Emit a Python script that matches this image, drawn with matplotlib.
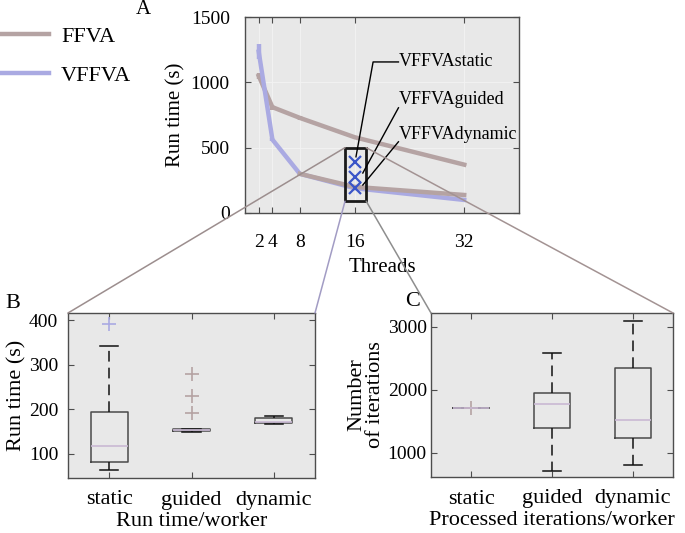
"""Run time scaling of FFVA vs VFFVA plus per-worker boxplots (panels A-C)."""
import matplotlib
matplotlib.use("Agg")
import matplotlib.pyplot as plt
from matplotlib.lines import Line2D
from matplotlib.patches import Rectangle, ConnectionPatch

plt.rcParams["font.family"] = ["Liberation Serif", "DejaVu Serif"]

# ---- data ----
threads = [2, 4, 8, 16, 32]
ffva_time = [1050, 810, 728, 580, 370]
ffva_err = [25, 18, 15, 8, 8]
vffva_time = [1235, 562, 300, 190, 100]
vffva_err = [55, 10, 5, 5, 3]
ffva_low_threads = [8, 16, 32]
ffva_low_time = [300, 200, 138]

sched_names = ["static", "guided", "dynamic"]
sched_time_16 = [392, 277, 192]  # VFFVA schedules at 16 threads

# panel B: run time per worker (s)
rt_whislo = [64, 150, 167]
rt_q1 = [82, 151, 169]
rt_med = [117, 153, 172]
rt_q3 = [195, 155, 180]
rt_whishi = [341, 157, 186]
rt_fliers = [[392], [192, 230, 280], []]

# panel C: processed iterations per worker
it_whislo = [1715, 714, 805]
it_q1 = [1715, 1387, 1229]
it_med = [1715, 1768, 1519]
it_q3 = [1715, 1952, 2340]
it_whishi = [1715, 2578, 3095]
it_fliers = [[1715], [], []]

TAUPE = "#b5a3a3"
LAV = "#aaaae2"
BG = "#e8e8e8"
SPINE = "#4d4d4d"
W, H = 685, 533


def px_axes(left, top, right, bottom):
    return [left / W, 1 - bottom / H, (right - left) / W, (bottom - top) / H]


def style(ax, labelsize=14, pad=6):
    ax.set_facecolor(BG)
    for s in ax.spines.values():
        s.set_color(SPINE)
        s.set_linewidth(1.0)
    ax.tick_params(direction="in", top=True, right=True, length=4,
                   color=SPINE, labelsize=labelsize, pad=pad)


fig = plt.figure(figsize=(W / 100, H / 100), dpi=100)

# ---- panel A ----
axA = fig.add_axes(px_axes(245, 17, 519, 213))
style(axA, labelsize=14)
axA.tick_params(axis="x", pad=15)
axA.tick_params(axis="y", pad=11)
axA.grid(True, color="#f3f3f3", lw=0.6)
axA.set_axisbelow(True)
axA.errorbar(threads, ffva_time, yerr=ffva_err, color=TAUPE, lw=3.2,
             elinewidth=3.2, capsize=0, zorder=3)
axA.errorbar(threads, vffva_time, yerr=vffva_err, color=LAV, lw=3.2,
             elinewidth=3.2, capsize=0, zorder=3)
axA.plot(ffva_low_threads, ffva_low_time, color=TAUPE, lw=3.2, zorder=4)
axA.plot([16] * len(sched_time_16), sched_time_16, "x", color="#3a55c8",
         ms=9, mew=1.6, zorder=6)
axA.set_xlim(0, 40)
axA.set_ylim(0, 1500)
axA.set_xticks(threads)
axA.set_yticks([0, 500, 1000, 1500])
axA.set_xlabel("Threads", fontsize=15, labelpad=5)
axA.set_ylabel("Run time (s)", fontsize=15, labelpad=4)

zoom_box = Rectangle((14.6, 90), 3.1, 410, fill=False, ec="#1a1a1a", lw=2, zorder=7)
axA.add_patch(zoom_box)

# annotation leaders
axA.plot([22.4, 18.7, 16.2], [1156, 1156, 430], color="k", lw=1, zorder=8)
axA.plot([22.4, 17.2], [805, 306], color="k", lw=1, zorder=8)
axA.plot([22.4, 17.2], [545, 214], color="k", lw=1, zorder=8)
for name, ty in zip(sched_names, [1156, 865, 597]):
    axA.text(22.5, ty, "VFFVA" + name, fontsize=13, va="center", ha="left",
             zorder=9)

handles = [Line2D([], [], color=TAUPE, lw=3.2), Line2D([], [], color=LAV, lw=3.2)]
fig.legend(handles, ["FFVA", "VFFVA"], loc="upper left",
           bbox_to_anchor=(0, 1 - 26 / H), frameon=False,
           fontsize=16, handlelength=2.2, handletextpad=0.55,
           labelspacing=0.85, borderaxespad=0, borderpad=0)
fig.text(143 / W, 1 - 10 / H, "A", fontsize=15, ha="center", va="center")


def draw_box(ax, whislo, q1, med, q3, whishi, fliers, flier_colors):
    stats = []
    for i in range(len(sched_names)):
        stats.append(dict(whislo=whislo[i], q1=q1[i], med=med[i], q3=q3[i],
                          whishi=whishi[i], fliers=fliers[i]))
    bp = ax.bxp(stats, positions=[1, 2, 3], widths=0.45, showfliers=True,
                boxprops=dict(color="#4a4a4a", lw=1.1),
                medianprops=dict(color="#c9b9d3", lw=1.2),
                whiskerprops=dict(color="#111111", lw=1.1, ls=(0, (7, 4))),
                capprops=dict(color="#111111", lw=1.1))
    for fl, c in zip(bp["fliers"], flier_colors):
        fl.set(marker="+", markersize=10, markeredgecolor=c, mew=1.2)
    ax.set_xlim(0.5, 3.5)
    ax.set_xticks([1, 2, 3])
    ax.set_xticklabels(sched_names, fontsize=16)
    return bp


# ---- panel B ----
axB = fig.add_axes(px_axes(68, 313, 315, 478))
style(axB, labelsize=14, pad=7)
draw_box(axB, rt_whislo, rt_q1, rt_med, rt_q3, rt_whishi, rt_fliers,
         [LAV, TAUPE, TAUPE])
axB.tick_params(axis="x", pad=9)
axB.set_ylim(46, 416)
axB.set_yticks([100, 200, 300, 400])
axB.set_ylabel("Run time (s)", fontsize=16, labelpad=2)
axB.set_xlabel("Run time/worker", fontsize=16, labelpad=2)
fig.text(13 / W, 1 - 303 / H, "B", fontsize=16, ha="center", va="center")

# ---- panel C ----
axC = fig.add_axes(px_axes(431, 313, 673, 477))
style(axC, labelsize=14, pad=3)
draw_box(axC, it_whislo, it_q1, it_med, it_q3, it_whishi, it_fliers,
         [TAUPE, TAUPE, TAUPE])
axC.tick_params(axis="x", pad=9)
axC.set_ylim(615, 3215)
axC.set_yticks([1000, 2000, 3000])
axC.set_ylabel("Number\nof iterations", fontsize=16, labelpad=2,
               linespacing=0.95)
axC.set_xlabel("Processed iterations/worker", fontsize=16, labelpad=2)
fig.text(413 / W, 1 - 302 / H, "C", fontsize=16, ha="center", va="center")

# ---- zoom connectors from the box in A to panels B and C ----
x0, y0 = zoom_box.get_x(), zoom_box.get_y()
x1, y1 = x0 + zoom_box.get_width(), y0 + zoom_box.get_height()
links = [((x0, y1), axB, (0, 1), "#9c8e8e"),
         ((x0, y0), axB, (1, 1), "#a29cc4"),
         ((x1, y0), axC, (0, 1), "#8e8e8e"),
         ((x1, y1), axC, (1, 1), "#a39393")]
for xyA, ax_to, xyB, c in links:
    con = ConnectionPatch(xyA=xyA, coordsA=axA.transData, xyB=xyB,
                          coordsB=ax_to.transAxes, color=c, lw=1.1, zorder=5)
    fig.add_artist(con)

fig.savefig("out.png", dpi=100)
